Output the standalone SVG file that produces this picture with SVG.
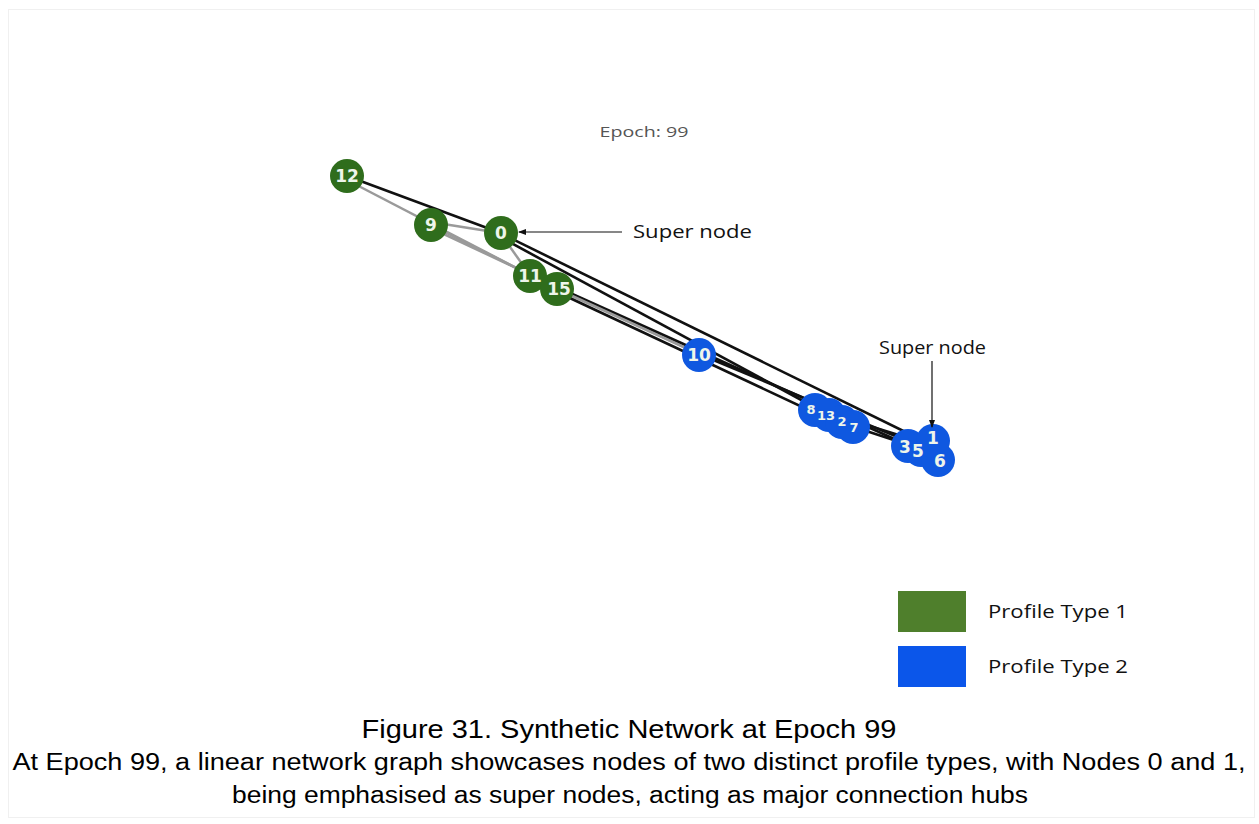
<svg xmlns="http://www.w3.org/2000/svg" width="1259" height="824" viewBox="0 0 1259 824">
<defs>
<style>
.g{fill:#2f6d1c}
.b{fill:#0f58e0}
.lbl{font-family:"DejaVu Sans",sans-serif;font-weight:bold;font-size:17px;fill:#eef5ea;text-anchor:middle;dominant-baseline:central}
.sm{font-size:13px}
.e{stroke:#111;stroke-width:2.6;fill:none}
.eg{stroke:#9a9a9a;stroke-width:2.5;fill:none}
.ew{stroke:#fff;stroke-width:6;fill:none}
.note{font-family:"Open Sans",sans-serif;font-size:18px;fill:#111}
.cap{font-family:"Liberation Sans",Arial,sans-serif;fill:#000;text-anchor:middle}
</style>
<marker id="ah" markerWidth="8" markerHeight="8" refX="7" refY="4" orient="auto" markerUnits="userSpaceOnUse">
<path d="M0,1 L8,4 L0,7 Z" fill="#111"/>
</marker>
</defs>
<rect x="0" y="0" width="1259" height="824" fill="#fff"/>
<rect x="8.5" y="9.5" width="1246" height="808" fill="none" stroke="#f0f0f0" stroke-width="1"/>
<text x="644" y="137" font-family="'Open Sans',sans-serif" font-size="15" fill="#555" text-anchor="middle" textLength="89" lengthAdjust="spacingAndGlyphs">Epoch: 99</text>
<g id="connectors">
<path class="ew" d="M347,176 L934,446"/>
<path class="e" d="M347,176 L498,232"/>
<path class="eg" d="M347,180 L557,289"/>
<path class="eg" d="M431,225 L530,275"/>
<path class="eg" d="M431,228 L699,354"/>
<path class="eg" d="M431,222 L500,233"/>
<path class="e" d="M500,233 L934,446"/>
<path class="e" d="M500,237 L853,428"/>
<path class="eg" d="M500,233 L530,275"/>
<path class="e" d="M530,275 L910,446"/>
<path class="eg" d="M557,289 L699,354"/>
<path class="e" d="M557,292 L830,420"/>
<path class="e" d="M699,354 L924,448"/>
<path class="e" d="M818,410 L934,446"/>
<path class="e" d="M845,424 L912,446"/>
</g>
<g id="n12"><circle class="g" cx="347" cy="176" r="17"/></g>
<g id="n9"><circle class="g" cx="431" cy="225" r="17"/></g>
<g id="n0"><circle class="g" cx="501" cy="233" r="17"/></g>
<g id="n11"><circle class="g" cx="530" cy="276" r="17"/></g>
<g id="n15"><circle class="g" cx="557" cy="289" r="17"/></g>
<g id="n10"><circle class="b" cx="699" cy="355" r="17"/></g>
<g id="n8"><circle class="b" cx="815" cy="410" r="17"/></g>
<g id="n13"><circle class="b" cx="829" cy="415" r="17"/></g>
<g id="n2"><circle class="b" cx="842" cy="422" r="17"/></g>
<g id="n7"><circle class="b" cx="853" cy="427" r="17"/></g>
<g id="n3"><circle class="b" cx="908" cy="446" r="17"/></g>
<g id="n5"><circle class="b" cx="921" cy="450" r="17"/></g>
<g id="n6"><circle class="b" cx="938" cy="460" r="17"/></g>
<g id="n1"><circle class="b" cx="933" cy="441" r="17"/></g>
<g id="node-labels">
<text class="lbl" x="347" y="176">12</text>
<text class="lbl" x="431" y="225">9</text>
<text class="lbl" x="501" y="233" fill="#cfe3c4">0</text>
<text class="lbl" x="530" y="276">11</text>
<text class="lbl" x="559" y="289">15</text>
<text class="lbl" x="699" y="355">10</text>
<text class="lbl sm" x="811" y="409">8</text>
<text class="lbl sm" x="826" y="415">13</text>
<text class="lbl sm" x="842" y="421">2</text>
<text class="lbl sm" x="854" y="427">7</text>
<text class="lbl" x="905" y="447">3</text>
<text class="lbl" x="918" y="451">5</text>
<text class="lbl" x="933" y="438">1</text>
<text class="lbl" x="940" y="461">6</text>
</g>
<g id="ann1">
<line x1="622" y1="232" x2="519" y2="232" stroke="#111" stroke-width="1.2" marker-end="url(#ah)"/>
<text class="note" x="633" y="238" textLength="119" lengthAdjust="spacingAndGlyphs">Super node</text>
</g>
<g id="ann2">
<line x1="932" y1="361" x2="932" y2="427" stroke="#111" stroke-width="1.2" marker-end="url(#ah)"/>
<text class="note" x="879" y="354" textLength="107" lengthAdjust="spacingAndGlyphs">Super node</text>
</g>
<g id="legend">
<rect x="898" y="591" width="68" height="41" fill="#4f7f2c"/>
<rect x="898" y="646" width="68" height="41" fill="#0b56ea"/>
<text class="note" x="988" y="618" textLength="140" lengthAdjust="spacingAndGlyphs">Profile Type 1</text>
<text class="note" x="988" y="673" textLength="140" lengthAdjust="spacingAndGlyphs">Profile Type 2</text>
</g>
<g id="caption">
<text class="cap" x="629" y="738" font-size="26" textLength="535" lengthAdjust="spacingAndGlyphs">Figure 31. Synthetic Network at Epoch 99</text>
<text class="cap" x="629" y="770" font-size="23" textLength="1233" lengthAdjust="spacingAndGlyphs">At Epoch 99, a linear network graph showcases nodes of two distinct profile types, with Nodes 0 and 1,</text>
<text class="cap" x="630" y="803" font-size="23" textLength="796" lengthAdjust="spacingAndGlyphs">being emphasised as super nodes, acting as major connection hubs</text>
</g>
</svg>
